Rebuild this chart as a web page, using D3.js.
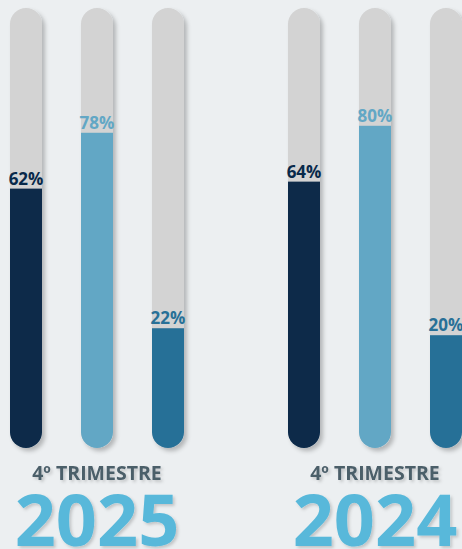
<!DOCTYPE html>
<html>
<head>
<meta charset="utf-8">
<script src="https://cdn.jsdelivr.net/npm/d3@7"></script>
<style>
  html, body { margin: 0; padding: 0; background: #ECEFF1; }
  svg { display: block; }
</style>
</head>
<body>
<script>
// ---- data ----
const years = ["2025", "2024"];
const periodLabel = "4º TRIMESTRE";
const metrics = ["m1", "m2", "m3"];
const values2025 = [62, 78, 22];
const values2024 = [64, 80, 20];
const seriesValues = { "2025": values2025, "2024": values2024 };
const metricColors = ["#08294A", "#62A7C5", "#287097"];

const W = 462, H = 549;
const svg = d3.select("body").append("svg").attr("width", W).attr("height", H);
svg.append("rect").attr("width", W).attr("height", H).attr("fill", "#ECEFF1");

const defs = svg.append("defs");
const sh = defs.append("filter").attr("id", "shadow").attr("x", "-30%").attr("y", "-10%").attr("width", "170%").attr("height", "130%");
sh.append("feDropShadow").attr("dx", 3).attr("dy", 3).attr("stdDeviation", 2).attr("flood-color", "#000").attr("flood-opacity", 0.24);
const tsh = defs.append("filter").attr("id", "tshadow").attr("x", "-10%").attr("y", "-20%").attr("width", "130%").attr("height", "150%");
tsh.append("feDropShadow").attr("dx", 2).attr("dy", 2).attr("stdDeviation", 1.5).attr("flood-color", "#000").attr("flood-opacity", 0.18);

// scales
const x0 = d3.scaleBand().domain(years).range([10, 566]).paddingInner(0).paddingOuter(0);
const x1 = d3.scaleBand().domain(d3.range(metrics.length)).range([0, 174]).paddingInner(0.549).paddingOuter(0);
const y = d3.scaleLinear().domain([0, 100]).range([405, 56]);
const trackTop = 8, trackBottom = 448;
const bw = x1.bandwidth();

years.forEach((yr, gi) => {
  const g = svg.append("g").attr("transform", `translate(${x0(yr)},0)`);
  seriesValues[yr].forEach((v, i) => {
    const bx = x1(i);
    const cid = `clip-${yr}-${i}`;
    defs.append("clipPath").attr("id", cid)
      .append("rect").attr("x", bx).attr("y", trackTop).attr("width", bw)
      .attr("height", trackBottom - trackTop).attr("rx", bw / 2).attr("ry", bw / 2);
    const bg = g.append("g").attr("filter", "url(#shadow)");
    const inner = bg.append("g").attr("clip-path", `url(#${cid})`);
    inner.append("rect").attr("x", bx).attr("y", trackTop).attr("width", bw)
      .attr("height", trackBottom - trackTop).attr("fill", "#D3D3D3");
    inner.append("rect").attr("x", bx).attr("y", y(v)).attr("width", bw)
      .attr("height", trackBottom - y(v)).attr("fill", metricColors[i]);
    g.append("text").attr("x", bx + bw / 2).attr("y", y(v) - 4)
      .attr("text-anchor", "middle")
      .attr("font-family", "'Open Sans', sans-serif").attr("font-weight", 700)
      .attr("font-size", 17).attr("fill", metricColors[i])
      .text(v + "%");
  });
  const cx = x1.range()[1] / 2;
  g.append("text").attr("x", cx).attr("y", 480).attr("text-anchor", "middle")
    .attr("font-family", "'Open Sans', sans-serif").attr("font-weight", 700)
    .attr("font-size", 19.5).attr("fill", "#4B5E69").attr("filter", "url(#tshadow)")
    .text(periodLabel);
  g.append("text").attr("x", cx).attr("y", 546).attr("text-anchor", "middle")
    .attr("font-family", "'Open Sans', sans-serif").attr("font-weight", 700)
    .attr("font-size", 72).attr("fill", "#59B8DA").attr("filter", "url(#tshadow)")
    .text(yr);
});
</script>
</body>
</html>
